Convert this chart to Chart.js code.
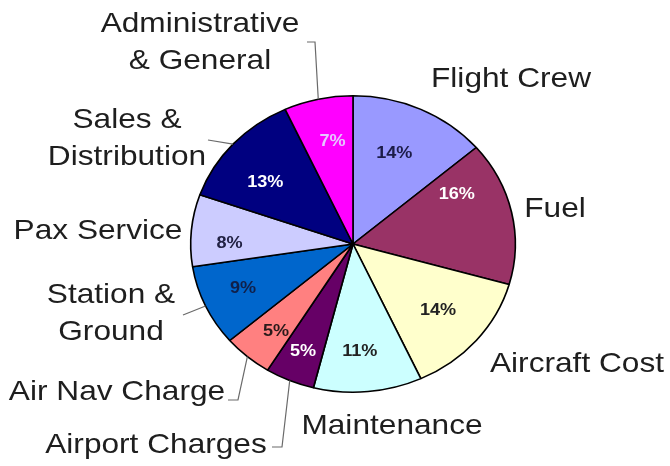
<!DOCTYPE html>
<html>
<head>
<meta charset="utf-8">
<title>Airline cost breakdown</title>
<script src="https://cdn.jsdelivr.net/npm/chart.js@4.4.1/dist/chart.umd.min.js"></script>
<style>
  html, body { margin: 0; padding: 0; background: #fff; }
  #wrap { width: 670px; height: 466px; }
</style>
</head>
<body>
<div id="wrap"><canvas id="costChart" width="670" height="466"></canvas></div>
<script>
// cost categories, clockwise from 12 o'clock
const categories = [
  'Flight Crew', 'Fuel', 'Aircraft Cost', 'Maintenance', 'Airport Charges',
  'Air Nav Charge', ['Station &', 'Ground'], 'Pax Service',
  ['Sales &', 'Distribution'], ['Administrative', '& General']
];
const shares = [14, 16, 14, 11, 5, 5, 9, 8, 13, 7];

const sliceColors = [
  '#9999ff', '#993366', '#ffffcc', '#ccffff', '#660066',
  '#ff8080', '#0066cc', '#ccccff', '#000080', '#ff00ff'
];
const pctColors = [
  '#1c1c48', '#ffffff', '#222222', '#222222', '#ffffff',
  '#2a1a1a', '#10204a', '#222244', '#ffffff', '#e6c8ff'
];

// where each category name sits (centre x, first baseline) and the bends of its leader line
const nameSpots = [
  { x: 511, y: 87 },
  { x: 555, y: 217 },
  { x: 577, y: 372 },
  { x: 392, y: 434 },
  { x: 156, y: 453, leader: [[282, 447], [272, 447]] },
  { x: 117, y: 400, leader: [[238, 400], [228, 400]] },
  { x: 111, y: 303, leader: [[183, 315]] },
  { x: 98,  y: 239 },
  { x: 127, y: 128, leader: [[208, 140]] },
  { x: 200, y: 32,  leader: [[315, 42], [307, 42]] }
];
// small angle nudges (degrees) and radius fractions for the percentage labels
const pctNudge = [-2, -15, 0, 2, 0, -2, 1, -5, -5, 2];
const pctRadius = [0.66, 0.72, 0.69, 0.73, 0.79, 0.76, 0.74, 0.76, 0.68, 0.7];

const stretchX = 1.095;   // pie is drawn a little wider than tall
const textStretch = 1.13;
const fontFamily = '"Liberation Sans", Arial, sans-serif';

function drawStretched(ctx, text, x, y, sx) {
  ctx.save();
  ctx.translate(x, y);
  ctx.scale(sx, 1);
  ctx.fillText(text, 0, 0);
  ctx.restore();
}

const ellipsePlugin = {
  id: 'ellipse',
  beforeDatasetsDraw(chart) {
    const arc = chart.getDatasetMeta(0).data[0];
    const ctx = chart.ctx;
    ctx.save();
    ctx.translate(arc.x, 0);
    ctx.scale(stretchX, 1);
    ctx.translate(-arc.x, 0);
  },
  afterDatasetsDraw(chart) {
    chart.ctx.restore();
  }
};

const labelPlugin = {
  id: 'sliceLabels',
  afterDraw(chart) {
    const ctx = chart.ctx;
    const arcs = chart.getDatasetMeta(0).data;
    ctx.save();
    arcs.forEach((arc, i) => {
      const mid = (arc.startAngle + arc.endAngle) / 2;
      const r = arc.outerRadius;

      // percentage inside the slice
      const a = mid + pctNudge[i] * Math.PI / 180;
      const px = arc.x + Math.cos(a) * r * pctRadius[i] * stretchX;
      const py = arc.y + Math.sin(a) * r * pctRadius[i];
      ctx.font = 'bold 16px ' + fontFamily;
      ctx.textAlign = 'center';
      ctx.textBaseline = 'middle';
      ctx.fillStyle = pctColors[i];
      drawStretched(ctx, shares[i] + '%', px, py, textStretch);

      // leader line from the slice edge
      const spot = nameSpots[i];
      if (spot.leader) {
        ctx.strokeStyle = '#6a6a6a';
        ctx.lineWidth = 1.2;
        ctx.beginPath();
        ctx.moveTo(arc.x + Math.cos(mid) * r * stretchX, arc.y + Math.sin(mid) * r);
        spot.leader.forEach(p => ctx.lineTo(p[0], p[1]));
        ctx.stroke();
      }

      // category name
      const lines = Array.isArray(categories[i]) ? categories[i] : [categories[i]];
      ctx.font = '28px ' + fontFamily;
      ctx.textBaseline = 'alphabetic';
      ctx.fillStyle = '#1e1e1e';
      lines.forEach((line, k) => drawStretched(ctx, line, spot.x, spot.y + k * 37, textStretch));
    });
    ctx.restore();
  }
};

new Chart(document.getElementById('costChart'), {
  type: 'pie',
  data: {
    labels: categories.map(c => Array.isArray(c) ? c.join(' ') : c),
    datasets: [{
      data: shares,
      backgroundColor: sliceColors,
      borderColor: '#000000',
      borderWidth: 1.5,
      hoverOffset: 0
    }]
  },
  options: {
    responsive: false,
    animation: false,
    layout: { padding: { top: 95, bottom: 73, left: 100, right: 64 } },
    plugins: {
      legend: { display: false },
      tooltip: { enabled: false }
    }
  },
  plugins: [ellipsePlugin, labelPlugin]
});
</script>
</body>
</html>
